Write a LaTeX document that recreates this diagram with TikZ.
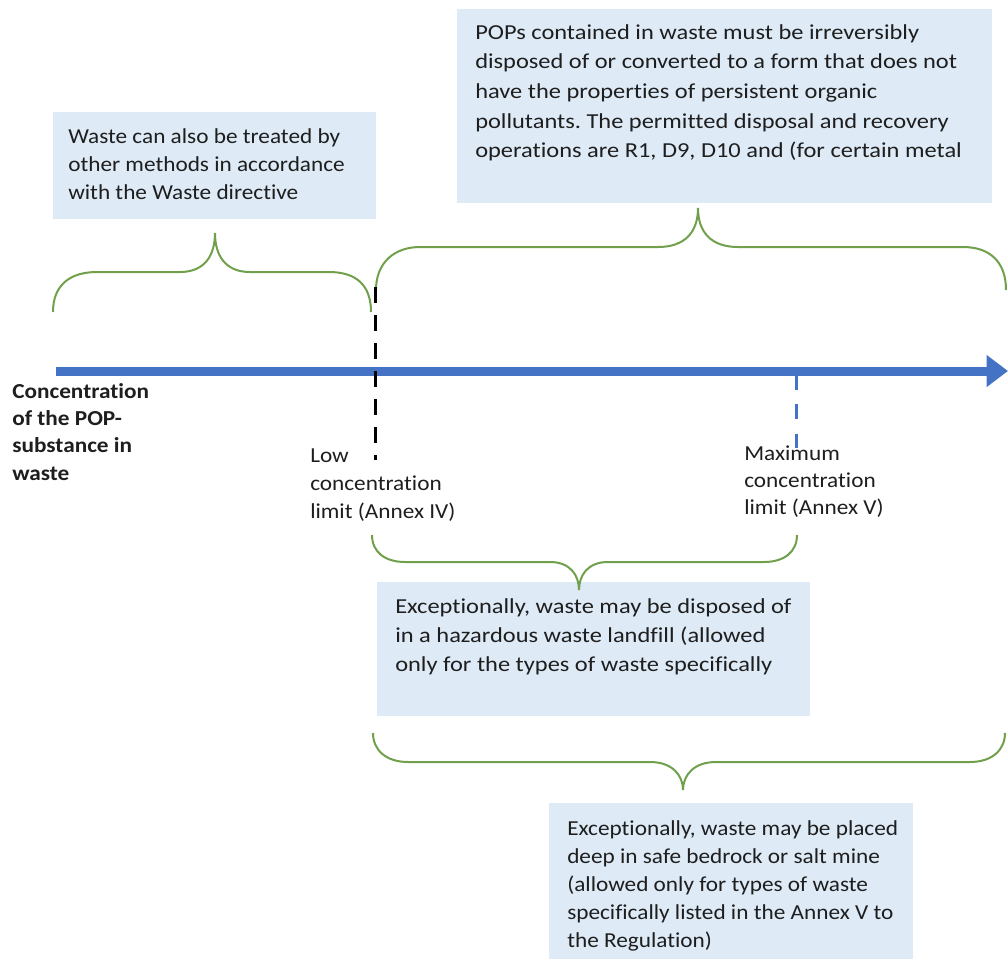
\documentclass[tikz,border=0pt]{standalone}
\usepackage{fontspec}
\setmainfont{Carlito}[Ligatures=NoCommon]
\newfontfamily\fsA{Carlito}[FakeStretch=1.09,Ligatures=NoCommon]
\newfontfamily\fsB{Carlito}[FakeStretch=1.145,Ligatures=NoCommon]
\usetikzlibrary{arrows.meta}
\definecolor{boxblue}{RGB}{222,234,246}
\definecolor{brgreen}{RGB}{112,160,76}
\definecolor{axblue}{RGB}{68,114,196}
\definecolor{txtcol}{RGB}{30,30,30}
\frenchspacing
\newcommand{\tl}[1]{\begin{tabular}[t]{@{}l@{}}#1\end{tabular}}
\tikzset{
  infobox/.style={fill=boxblue, draw=none, inner sep=0pt, anchor=north west},
  boxtext/.style={text=txtcol, inner sep=0pt, anchor=base west},
  brace/.style={draw=brgreen, line width=1.5pt},
  axisline/.style={draw=axblue, line width=6.75pt, -{Triangle[length=16pt,width=23pt]}},
  limitblack/.style={draw=black, line width=2.25pt, dash pattern=on 12pt off 9pt},
  limitblue/.style={draw=axblue, line width=2.25pt, dash pattern=on 11pt off 11pt}
}
\begin{document}
\begin{tikzpicture}[x=0.75pt,y=-0.75pt]
\useasboundingbox (0,0) rectangle (1008,958);
% boxes
\node[infobox, minimum width=242.25pt, minimum height=80.25pt] (b1) at (53,112) {};
\node[infobox, minimum width=401.25pt, minimum height=145.5pt] (b2) at (457,9) {};
\node[infobox, minimum width=324.75pt, minimum height=100.5pt] (b3) at (377,582) {};
\node[infobox, minimum width=273pt, minimum height=117pt] (b4) at (549,803) {};
% box texts
\node[boxtext, font=\fontsize{16}{21}\fsA] (t1) at (68,143) {\tl{Waste can also be treated by\\other methods in accordance\\with the Waste directive}};
\node[boxtext, font=\fontsize{16}{22.3}\fsB] (t2) at (475,39) {\tl{POPs contained in waste must be irreversibly\\disposed of or converted to a form that does not\\have the properties of persistent organic\\pollutants. The permitted disposal and recovery\\operations are R1, D9, D10 and (for certain metal}};
\node[boxtext, font=\fontsize{16}{22}\fsB] (t3) at (395,613) {\tl{Exceptionally, waste may be disposed of\\in a hazardous waste landfill (allowed\\only for the types of waste specifically}};
\node[boxtext, font=\fontsize{16}{21}\fsA] (t4) at (567,835) {\tl{Exceptionally, waste may be placed\\deep in safe bedrock or salt mine\\(allowed only for types of waste\\specifically listed in the Annex V to\\the Regulation)}};
% braces
\draw[brace] (53,312) .. controls (53,285) and (70,272) .. (97,272) -- (180,272)
  .. controls (205,272) and (215,255) .. (215,233)
  .. controls (215,255) and (225,272) .. (250,272) -- (329,272)
  .. controls (356,272) and (371,285) .. (371,312);
\draw[brace] (376,290) .. controls (376,262) and (395,247) .. (420,247) -- (658,247)
  .. controls (685,247) and (698,232) .. (698,208)
  .. controls (698,232) and (711,247) .. (738,247) -- (963,247)
  .. controls (990,247) and (1006,262) .. (1006,290);
\draw[brace] (372,535) .. controls (372,552) and (385,562) .. (405,562) -- (550,562)
  .. controls (570,562) and (579,575) .. (579,590)
  .. controls (579,575) and (588,562) .. (608,562) -- (764,562)
  .. controls (784,562) and (797,552) .. (797,535);
\draw[brace] (373,733) .. controls (373,750) and (386,762) .. (408,762) -- (650,762)
  .. controls (672,762) and (683,775) .. (683,790)
  .. controls (683,775) and (694,762) .. (716,762) -- (970,762)
  .. controls (992,762) and (1005,750) .. (1005,733);
% axis
\coordinate (axs) at (56,371);
\coordinate (axe) at (1008,371);
\draw[axisline] (axs) -- (axe);
% limit lines
\coordinate (lowtop) at (375,287);
\coordinate (lowbot) at (375,460);
\draw[limitblack] (lowtop) -- (lowbot);
\coordinate (maxtop) at (796,375);
\coordinate (maxbot) at (796,450);
\draw[limitblue] (maxtop) -- (maxbot);
% labels
\node[boxtext, font=\fontsize{16}{20.5}\fsA\bfseries] (axlab) at (12,398) {\tl{Concentration\\of the POP-\\substance in\\waste}};
\node[boxtext, font=\fontsize{16}{21.2}\fsA] (lowlab) at (310,462) {\tl{Low\\concentration\\limit (Annex IV)}};
\node[boxtext, font=\fontsize{16}{20.5}\fsA] (maxlab) at (744,460) {\tl{Maximum\\concentration\\limit (Annex V)}};
\end{tikzpicture}
\end{document}
